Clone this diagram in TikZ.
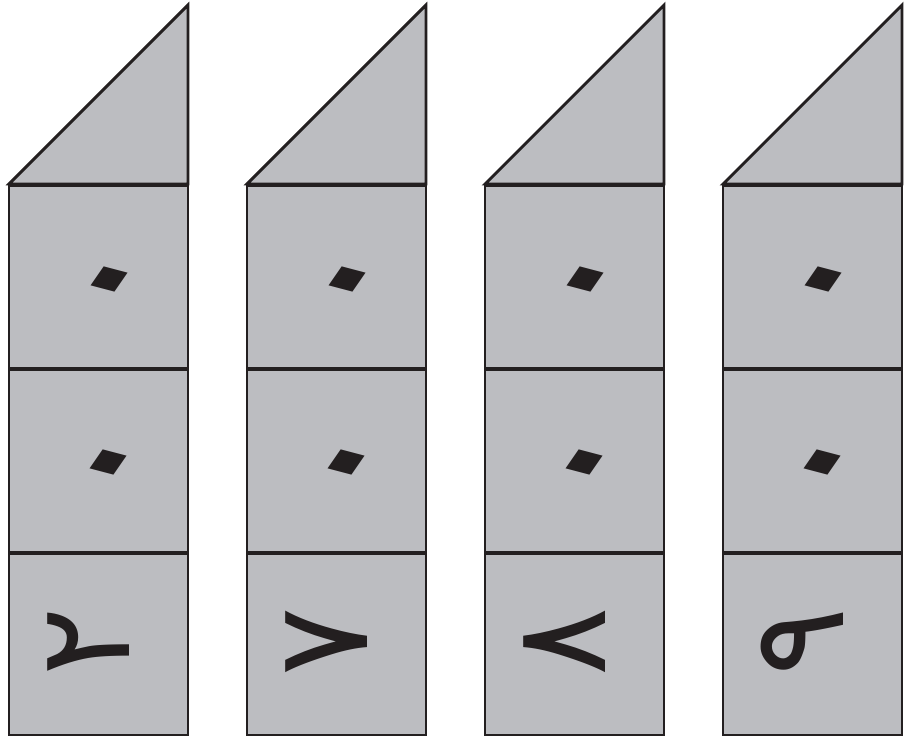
\documentclass[tikz,border=0pt]{standalone}
\usepackage{fontspec}
\newfontfamily\arabicfont[Script=Arabic]{DejaVu Sans}
\definecolor{cellgray}{RGB}{188,189,193}
\definecolor{inkblack}{RGB}{35,31,32}

\begin{document}
\begin{tikzpicture}[x=0.3mm, y=0.3mm,
  cell/.style={fill=cellgray, draw=inkblack, line width=0.85mm, line join=miter},
  digit/.style={inner sep=0pt, text=inkblack,
    font=\arabicfont\fontsize{110}{110}\selectfont, rotate=90},
  zero/.style={inner sep=0pt, text=inkblack,
    font=\arabicfont\fontsize{100}{100}\selectfont, cm={1.9,-0.5,0.92,1.33,(0,0)}}]

  \useasboundingbox (0,0) rectangle (904,738);

  % Sizes of one column
  \def\w{179}
  \def\gap{238}

  % Columns: tip, two cells with zero, last cell with the digit
  \foreach \i/\d in {0/٢, 1/٧, 2/٨, 3/٩}{
    \pgfmathsetmacro{\xl}{9+\gap*\i}
    \pgfmathsetmacro{\xr}{\xl+\w}
    \pgfmathsetmacro{\xm}{\xl+\w/2}

    % Tip
    \draw[cell] (\xl,554) -- (\xr,733) -- (\xr,554) -- cycle;

    % Cells
    \draw[cell] (\xl,370) rectangle (\xr,552);
    \draw[cell] (\xl,186) rectangle (\xr,368);
    \draw[cell] (\xl,3) rectangle (\xr,184);

    % Digits
    \node[zero] (zeroa-\i) at (\xm-1,441) {\makebox[0.2em][c]{٠}};
    \node[zero] (zerob-\i) at (\xm-2,258) {\makebox[0.2em][c]{٠}};
    \node[digit] (num-\i) at (\xm-10,96) {\d};
  }

\end{tikzpicture}
\end{document}
